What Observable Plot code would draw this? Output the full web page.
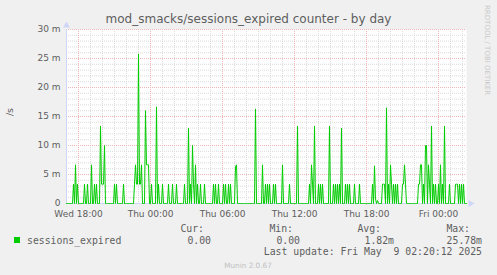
<!DOCTYPE html>
<html>
<head>
<meta charset="utf-8">
<script src="https://cdn.jsdelivr.net/npm/d3@7"></script>
<script src="https://cdn.jsdelivr.net/npm/@observablehq/plot@0.6"></script>
<style>
  html, body { margin: 0; padding: 0; background: #f0f0f0; }
  svg text { white-space: pre; }
</style>
</head>
<body>
<div id="chart"></div>
<script>
// 5-minute sample number counted from Wed 7 May 2025 17:00 (400 samples up to Fri 02:20)
const sampleSlot = [7, 9, 11, 18, 21, 25, 28, 30, 34, 35, 36, 37, 38, 48, 50, 57,
  68, 69, 70, 71, 72, 73, 74, 75, 79, 80, 81, 82, 85, 90, 92, 96, 102, 106, 110,
  118, 122, 124, 126, 127, 129, 131, 134, 138, 147, 149, 152, 157, 159, 162, 164,
  169, 170, 189, 196, 199, 201, 203, 207, 209, 216, 223, 231, 243, 245, 246, 248,
  252, 254, 256, 263, 267, 269, 271, 273, 275, 279, 281, 283, 288, 293, 306, 308,
  309, 311, 316, 317, 318, 320, 322, 324, 325, 327, 329, 331, 336, 337, 338, 339,
  352, 353, 354, 355, 357, 359, 360, 362, 363, 365, 367, 369, 372, 374, 376, 378,
  383, 389, 390, 391, 393, 395, 397];
// sessions expired per second, in milli (m)
const sampleValue = [3.33, 6.67, 3.33, 3.33, 3.33, 6.67, 3.33, 3.33, 13.33, 3.33, 3.33, 3.33, 10, 3.33, 3.33, 3.33,
  3.33, 6.67, 3.33, 3.33, 25.78, 3.33, 3.33, 6.67, 16, 6.67, 6.67, 6.67, 3.33, 16.67, 3.33, 3.33, 3.33, 3.33, 3.33,
  3.33, 13, 3.33, 10, 3.33, 6.67, 3.33, 3.33, 3.33, 3.33, 3.33, 3.33, 3.33, 3.33, 3.33, 3.33,
  6.3, 6.67, 16.3, 6.67, 3.33, 3.33, 3.33, 3.33, 3.33, 6.67, 3.33, 13.33, 3.33, 6.67, 3.33, 13.33,
  3.33, 3.33, 3.33, 13.33, 3.33, 3.33, 3.33, 3.33, 13, 3.33, 3.33, 3.33, 3.33, 3.33, 3.33, 6.5,
  0.8, 0.5, 3.33, 3.33, 3.33, 16.5, 3.33, 6.67, 3.33, 3.33, 3.33, 3.33, 3.33, 3.33, 6.67, 3.33,
  3.33, 3.33, 6.67, 6.67, 3.33, 10, 10, 6.67, 3.33, 13.33, 3.33, 3.33, 3.33, 6.67, 3.33, 13.33,
  3.33, 3.33, 3.33, 3.33, 3.33, 3.33, 3.33];
const sampleCount = 400;

const yTicks = [0, 5, 10, 15, 20, 25, 30];
const xTickLabels = ["Wed 18:00", "Thu 00:00", "Thu 06:00", "Thu 12:00", "Thu 18:00", "Fri 00:00"];
const titleText = "mod_smacks/sessions_expired counter - by day";
const seriesName = "sessions_expired";
const legendHeads = ["Cur:", "Min:", "Avg:", "Max:"];
const legendValues = ["0.00", "0.00", "1.82m", "25.78m"];
const lastUpdate = "Last update: Fri May  9 02:20:12 2025";

const t0 = Date.UTC(2025, 4, 7, 17, 0);
const toDate = s => new Date(t0 + s * 300000);
const valueBySlot = new Map(sampleSlot.map((s, i) => [s, sampleValue[i]]));
const table = d3.range(sampleCount + 1).map(s => ({t: toDate(s), v: valueBySlot.get(s) ?? 0}));

const xStart = toDate(0), xEnd = toDate(sampleCount);
const hours = d3.utcHour.range(xStart, xEnd).filter(d => d > xStart);
const majorX = hours.filter(d => d.getUTCHours() % 6 === 0);
const minorX = hours.filter(d => d.getUTCHours() % 6 !== 0);
const minorY = d3.range(1, 30).filter(v => v % 5 !== 0);
const majorY = yTicks.filter(v => v > 0);
const fmt = d3.utcFormat("%a %H:%M");

const axisColor = "#cfd6f8";
const fontColor = "#5e5e5e";
const minorGrid = "#dadada";
const majorGrid = "#efb6b6";

const chart = Plot.plot({
  width: 497,
  height: 275,
  marginLeft: 66,
  marginRight: 31,
  marginTop: 29,
  marginBottom: 72,
  style: {background: "#f0f0f0", fontFamily: "DejaVu Sans", fontSize: "9px", color: fontColor, overflow: "visible"},
  x: {type: "utc", domain: [xStart, xEnd]},
  y: {domain: [0, 30]},
  marks: [
    Plot.frame({fill: "white", stroke: "none"}),
    Plot.ruleY(minorY, {stroke: minorGrid, strokeDasharray: "1,1", strokeWidth: 1}),
    Plot.ruleX(minorX, {stroke: minorGrid, strokeDasharray: "1,1", strokeWidth: 1}),
    Plot.ruleY(majorY, {stroke: majorGrid, strokeDasharray: "1,1", strokeWidth: 1}),
    Plot.ruleX(majorX, {stroke: majorGrid, strokeDasharray: "1,1", strokeWidth: 1}),
    Plot.axisY({ticks: yTicks, tickSize: 0, tickPadding: 6, tickFormat: d => d === 0 ? "0" : `${d} m`, label: null, fill: fontColor, fontSize: 9}),
    Plot.axisX({ticks: majorX, tickSize: 2, tickPadding: 5, tickFormat: (d, i) => xTickLabels[i] ?? fmt(d), label: null, stroke: majorGrid, fill: fontColor, fontSize: 9}),
    Plot.ruleY([0], {stroke: axisColor, strokeWidth: 1}),
    Plot.ruleX([xStart], {stroke: axisColor, strokeWidth: 1}),
    Plot.line(table, {x: "t", y: "v", stroke: "#00cc00", strokeWidth: 1}),
    Plot.dot([xStart], {x: d => d, y: () => 30, symbol: "triangle", r: 2.6, fill: axisColor, stroke: "none", dy: -4}),
    Plot.dot([xEnd], {x: d => d, y: () => 0, symbol: "triangle", r: 2.6, fill: axisColor, stroke: "none", rotate: 90, dx: 4})
  ]
});
document.getElementById("chart").appendChild(chart);

const svg = d3.select(chart);
const addText = (x, y, anchor, family, size, color, str) =>
  svg.append("text").attr("x", x).attr("y", y).attr("text-anchor", anchor)
    .attr("font-family", family).attr("font-size", size).attr("fill", color).text(str);
// title
addText(248.5, 23, "middle", "DejaVu Sans", 12, fontColor, titleText);
// vertical unit label
svg.append("text").attr("transform", "translate(13,112) rotate(-90)").attr("text-anchor", "middle")
  .attr("font-family", "DejaVu Sans").attr("font-size", 9.5).attr("fill", fontColor).text("/s");
// rrdtool watermark
svg.append("text").attr("transform", "translate(485,5) rotate(90)").attr("text-anchor", "start")
  .attr("font-family", "DejaVu Sans").attr("font-size", 7).attr("fill", "#c8c8c8").text("RRDTOOL / TOBI OETIKER");
// legend
const mono = "DejaVu Sans Mono";
svg.append("rect").attr("x", 14).attr("y", 237).attr("width", 6).attr("height", 6).attr("fill", "#00cc00");
addText(27, 243.5, "start", mono, 9.8, fontColor, seriesName);
const headEnds = [204, 293, 381, 470];
const valEnds = [211, 300, 394, 482];
legendHeads.forEach((h, i) => addText(headEnds[i], 231.5, "end", mono, 9.8, fontColor, h));
legendValues.forEach((v, i) => addText(valEnds[i], 243.5, "end", mono, 9.8, fontColor, v));
addText(482, 255, "end", mono, 9.8, fontColor, lastUpdate);
addText(248, 267.5, "middle", "DejaVu Sans", 7.3, "#c0c0c0", "Munin 2.0.67");
</script>
</body>
</html>
